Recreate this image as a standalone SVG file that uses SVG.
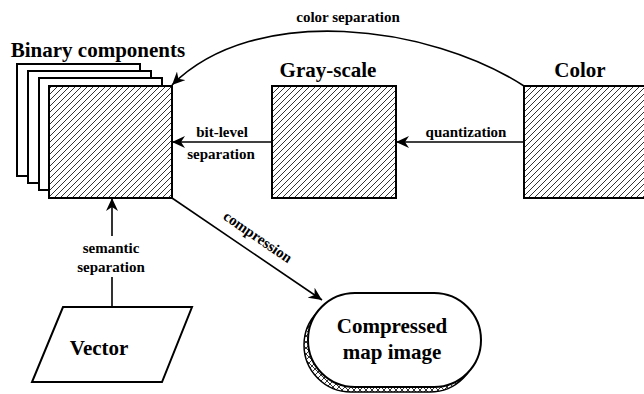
<svg xmlns="http://www.w3.org/2000/svg" width="644" height="394" viewBox="0 0 644 394">
<defs>
<pattern id="hatch" patternUnits="userSpaceOnUse" width="6" height="6">
<path d="M-1,1 L1,-1 M0,6 L6,0 M5,7 L7,5" stroke="#000" stroke-width="0.8"/>
</pattern>
<pattern id="xhatch" patternUnits="userSpaceOnUse" width="6" height="6">
<path d="M0,6 L6,0 M-1,1 L1,-1 M5,7 L7,5 M0,0 L6,6 M-1,5 L1,7 M5,-1 L7,1" stroke="#000" stroke-width="0.8"/>
</pattern>
<marker id="arr" markerUnits="userSpaceOnUse" markerWidth="14" markerHeight="12" refX="13" refY="6" orient="auto">
<path d="M0,0 L13,6 L0,12 L4,6 z" fill="#000"/>
</marker>
</defs>
<style>
text{font-family:"Liberation Serif","Times New Roman",serif;font-weight:bold;fill:#000}
.big{font-size:21px}
.lbl{font-size:15px}
.box{fill:#fff;stroke:#000;stroke-width:2}
.hb{fill:url(#hatch);stroke:#000;stroke-width:2}
.con{fill:none;stroke:#000;stroke-width:1.6}
</style>
<rect width="644" height="394" fill="#fff"/>

<g id="binary">
<rect class="box" x="17" y="64" width="123" height="112"/>
<rect class="box" x="28" y="71" width="123" height="112"/>
<rect class="box" x="39" y="78" width="123" height="112"/>
<rect class="box" x="49" y="86" width="123" height="112"/>
<rect class="hb" x="49" y="86" width="123" height="112"/>
<text class="big" x="98" y="57" text-anchor="middle">Binary components</text>
</g>

<g id="grayscale">
<rect class="box" x="272" y="86" width="124" height="112"/>
<rect class="hb" x="272" y="86" width="124" height="112"/>
<text class="big" x="328" y="77" text-anchor="middle">Gray-scale</text>
</g>

<g id="color">
<rect class="box" x="524" y="86" width="130" height="112"/>
<rect class="hb" x="524" y="86" width="130" height="112"/>
<text class="big" x="580" y="77" text-anchor="middle">Color</text>
</g>

<g id="vector">
<polygon class="box" points="63,307 192,307 162,382 32,382"/>
<text class="big" x="99" y="355" text-anchor="middle">Vector</text>
</g>

<g id="compressed">
<rect x="304" y="298" width="173" height="94" rx="47" ry="47" fill="url(#xhatch)" stroke="#000" stroke-width="1.5"/>
<rect class="box" x="308" y="293" width="173" height="94" rx="47" ry="47"/>
<text class="big" x="392" y="333" text-anchor="middle">Compressed</text>
<text class="big" x="392" y="359" text-anchor="middle">map image</text>
</g>

<g id="connectors">
<path class="con" d="M524,86 C430,25 255,2 172,85" marker-end="url(#arr)"/>
<text class="lbl" x="348" y="22" text-anchor="middle">color separation</text>

<path class="con" d="M524,142 L396,142" marker-end="url(#arr)"/>
<text class="lbl" x="466" y="137" text-anchor="middle">quantization</text>

<path class="con" d="M272,142 L172,142" marker-end="url(#arr)"/>
<text class="lbl" x="222" y="137" text-anchor="middle">bit-level</text>
<text class="lbl" x="221" y="159" text-anchor="middle">separation</text>

<path class="con" d="M112,307 L112,277 M112,236 L112,198" marker-end="url(#arr)"/>
<text class="lbl" x="111" y="253" text-anchor="middle">semantic</text>
<text class="lbl" x="111" y="272" text-anchor="middle">separation</text>

<path class="con" d="M172,198 L322,300" marker-end="url(#arr)"/>
<text class="lbl" x="0" y="0" text-anchor="middle" transform="translate(255,241) rotate(34.5)">compression</text>
</g>
</svg>
